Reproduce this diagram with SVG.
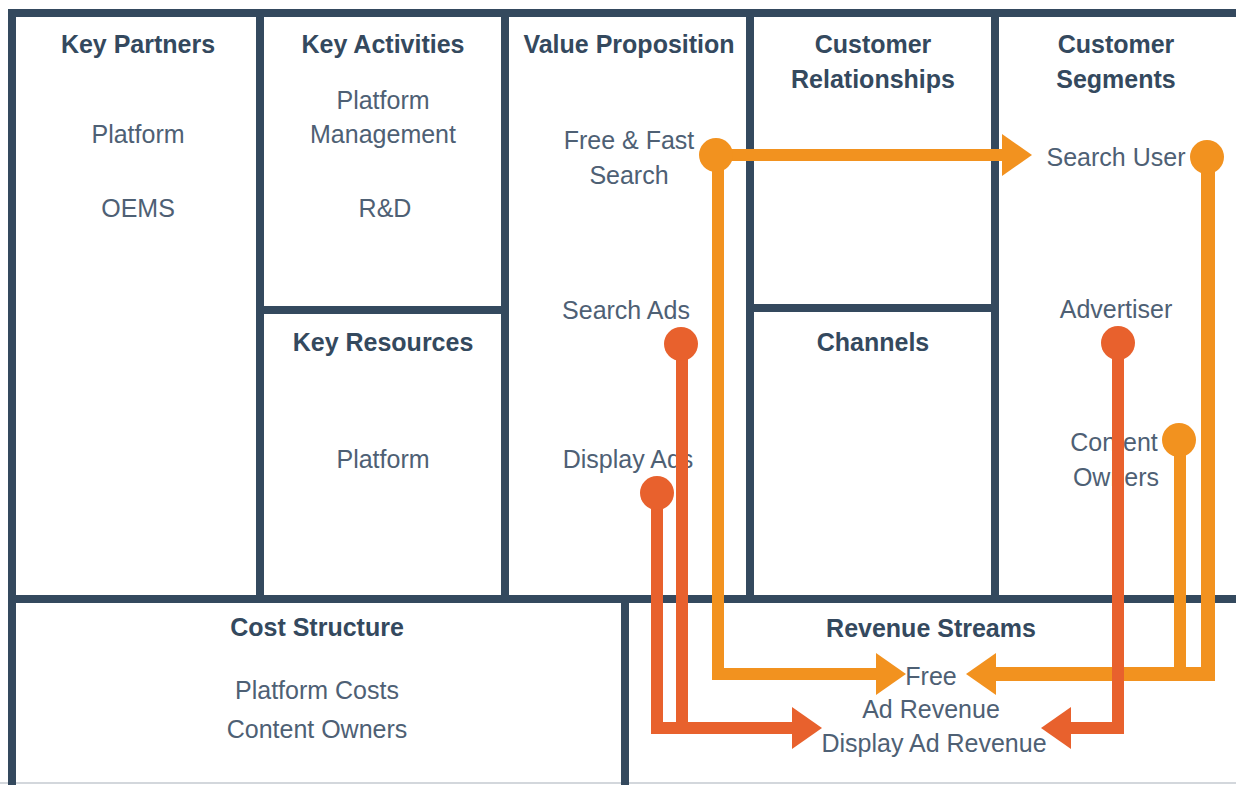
<svg xmlns="http://www.w3.org/2000/svg" width="1236" height="785" viewBox="0 0 1236 785">
  <style>
    .grid { stroke: #34495e; stroke-width: 8; fill: none; }
    .title { font-family: "Liberation Sans", Arial, sans-serif; font-size: 25px; font-weight: bold; fill: #34495e; text-anchor: middle; }
    .item { font-family: "Liberation Sans", Arial, sans-serif; font-size: 25px; fill: #4e6074; text-anchor: middle; }
    .orange { stroke: #f2921f; stroke-width: 12; fill: none; stroke-linejoin: miter; }
    .red { stroke: #e8612d; stroke-width: 12; fill: none; stroke-linejoin: miter; }
    .dot-orange { fill: #f2921f; }
    .dot-red { fill: #e8612d; }
  </style>
  <defs>
    <marker id="arrow-orange" markerUnits="userSpaceOnUse" markerWidth="31" markerHeight="42" refX="0" refY="21" orient="auto" viewBox="0 0 31 42">
      <path d="M0,0 L30,21 L0,42 Z" fill="#f2921f"/>
    </marker>
    <marker id="arrow-red" markerUnits="userSpaceOnUse" markerWidth="31" markerHeight="42" refX="0" refY="21" orient="auto" viewBox="0 0 31 42">
      <path d="M0,0 L30,21 L0,42 Z" fill="#e8612d"/>
    </marker>
  </defs>

  <rect width="1236" height="785" fill="#ffffff"/>

  <!-- canvas grid -->
  <g id="grid">
    <line x1="0" y1="783" x2="1236" y2="783" stroke="#d3d7dc" stroke-width="2"/>
    <path class="grid" d="M12,785 V13 H1240"/>
    <line class="grid" x1="8" y1="599" x2="1240" y2="599"/>
    <line class="grid" x1="260" y1="13" x2="260" y2="599"/>
    <line class="grid" x1="505" y1="13" x2="505" y2="599"/>
    <line class="grid" x1="750" y1="13" x2="750" y2="599"/>
    <line class="grid" x1="995" y1="13" x2="995" y2="599"/>
    <line class="grid" x1="260" y1="310" x2="505" y2="310"/>
    <line class="grid" x1="750" y1="308" x2="995" y2="308"/>
    <line class="grid" x1="625" y1="599" x2="625" y2="785"/>
  </g>

  <g id="key-partners">
    <text class="title" x="138" y="53">Key Partners</text>
    <text class="item" x="138" y="143">Platform</text>
    <text class="item" x="138" y="217">OEMS</text>
  </g>

  <g id="key-activities">
    <text class="title" x="383" y="53">Key Activities</text>
    <text class="item" x="383" y="109">Platform</text>
    <text class="item" x="383" y="143">Management</text>
    <text class="item" x="385" y="217">R&amp;D</text>
  </g>

  <g id="key-resources">
    <text class="title" x="383" y="351">Key Resources</text>
    <text class="item" x="383" y="468">Platform</text>
  </g>

  <g id="value-proposition">
    <text class="title" x="629" y="53">Value Proposition</text>
    <text class="item" x="629" y="149">Free &amp; Fast</text>
    <text class="item" x="629" y="184">Search</text>
    <text class="item" x="626" y="319">Search Ads</text>
    <text class="item" x="628" y="468">Display Ads</text>
  </g>

  <g id="customer-relationships">
    <text class="title" x="873" y="53">Customer</text>
    <text class="title" x="873" y="88">Relationships</text>
  </g>

  <g id="channels">
    <text class="title" x="873" y="351">Channels</text>
  </g>

  <g id="customer-segments">
    <text class="title" x="1116" y="53">Customer</text>
    <text class="title" x="1116" y="88">Segments</text>
    <text class="item" x="1116" y="166">Search User</text>
    <text class="item" x="1116" y="318">Advertiser</text>
    <text class="item" x="1114" y="451">Content</text>
    <text class="item" x="1116" y="486">Owners</text>
  </g>

  <g id="cost-structure">
    <text class="title" x="317" y="636">Cost Structure</text>
    <text class="item" x="317" y="699">Platform Costs</text>
    <text class="item" x="317" y="738">Content Owners</text>
  </g>

  <g id="revenue-streams">
    <text class="title" x="931" y="637">Revenue Streams</text>
    <text class="item" x="931" y="685">Free</text>
    <text class="item" x="931" y="718">Ad Revenue</text>
    <text class="item" x="934" y="752">Display Ad Revenue</text>
  </g>

  <!-- connectors -->
  <g id="connectors">
    <path class="orange" d="M716,155 H1002" marker-end="url(#arrow-orange)"/>
    <path class="orange" d="M718,155 V674 H876" marker-end="url(#arrow-orange)"/>
    <path class="orange" d="M1180,440 V674"/>
    <path class="orange" d="M1208,157 V674 H996" marker-end="url(#arrow-orange)" style="stroke-width:14"/>
    <path class="red" d="M682,344 V728 H792" marker-end="url(#arrow-red)"/>
    <path class="red" d="M657,493 V728 H682"/>
    <path class="red" d="M1118,343 V728 H1071" marker-end="url(#arrow-red)"/>

    <circle class="dot-orange" cx="716" cy="155" r="17"/>
    <circle class="dot-orange" cx="1207" cy="157" r="17"/>
    <circle class="dot-orange" cx="1179" cy="440" r="17"/>
    <circle class="dot-red" cx="681" cy="344" r="17"/>
    <circle class="dot-red" cx="657" cy="493" r="17"/>
    <circle class="dot-red" cx="1118" cy="343" r="17"/>
  </g>
</svg>
